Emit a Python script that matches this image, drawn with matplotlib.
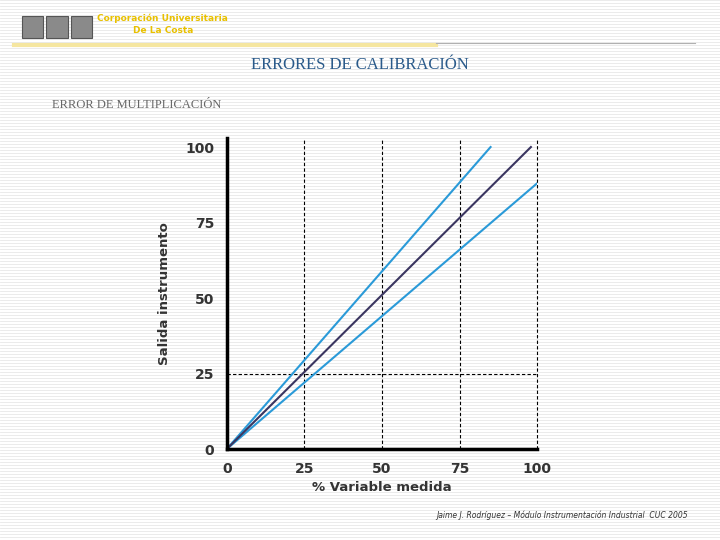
import matplotlib
matplotlib.use("Agg")
import matplotlib.pyplot as plt
from matplotlib.patches import Rectangle
from matplotlib.lines import Line2D

# data
x_ideal = [0, 98]
y_ideal = [0, 100]
x_high = [0, 85]
y_high = [0, 100]
x_low = [0, 100]
y_low = [0, 88]
ticks = [0, 25, 50, 75, 100]

fig = plt.figure(figsize=(7.2, 5.4), dpi=100)

# striped slide background
for i in range(0, 540, 3):
    fig.add_artist(Line2D([0, 1], [1 - i / 540] * 2, color="#e8e8e8", lw=0.6, zorder=-10))

# header
for k in range(3):
    fig.add_artist(Rectangle((0.03 + k * 0.034, 0.93), 0.03, 0.04, facecolor="#8a8a8a",
                             edgecolor="#555555", lw=0.8))
fig.text(0.135, 0.962, "Corporación Universitaria", fontsize=6.5, color="#e8c000",
         fontweight="bold", family="DejaVu Sans")
fig.text(0.185, 0.938, "De La Costa", fontsize=6.5, color="#e8c000",
         fontweight="bold", family="DejaVu Sans")
fig.add_artist(Line2D([0.02, 0.605], [0.917, 0.917], color="#f5e6a0", lw=3))
fig.add_artist(Line2D([0.605, 0.965], [0.921, 0.921], color="#b0b0b0", lw=0.8))
fig.text(0.5, 0.872, "ERRORES DE CALIBRACIÓN", ha="center", fontsize=12,
         color="#2a5a8a", family="Liberation Serif")
fig.text(0.072, 0.8, "ERROR DE MULTIPLICACIÓN", fontsize=9, color="#666666",
         family="Liberation Serif")
fig.text(0.955, 0.04, "Jaime J. Rodríguez – Módulo Instrumentación Industrial  CUC 2005",
         ha="right", fontsize=5.5, style="italic", color="#333333")

ax = fig.add_axes([0.315, 0.1685, 0.431, 0.576])
ax.patch.set_alpha(0)
ax.set_xlim(0, 100)
ax.set_ylim(0, 103)
for v in [25, 50, 75, 100]:
    ax.axvline(v, color="black", ls=(0, (3, 2)), lw=0.8, clip_on=False)
ax.axhline(25, color="black", ls=(0, (3, 2)), lw=0.8)

ax.plot(x_high, y_high, color="#2a9ad8", lw=1.5)
ax.plot(x_low, y_low, color="#2a9ad8", lw=1.5)
ax.plot(x_ideal, y_ideal, color="#3a3560", lw=1.5)

for s in ["top", "right"]:
    ax.spines[s].set_visible(False)
ax.spines["left"].set_linewidth(2.5)
ax.spines["bottom"].set_linewidth(2.5)
ax.set_xticks(ticks)
ax.set_yticks(ticks)
ax.tick_params(length=0, pad=9, labelsize=10)
for lab in ax.get_xticklabels() + ax.get_yticklabels():
    lab.set_fontweight("bold")
    lab.set_color("#333333")
ax.set_xlabel("% Variable medida", fontsize=9.5, fontweight="bold", color="#333333", labelpad=4)
ax.set_ylabel("Salida instrumento", fontsize=9.5, fontweight="bold", color="#333333", labelpad=10)

fig.savefig("out.png", dpi=100)
